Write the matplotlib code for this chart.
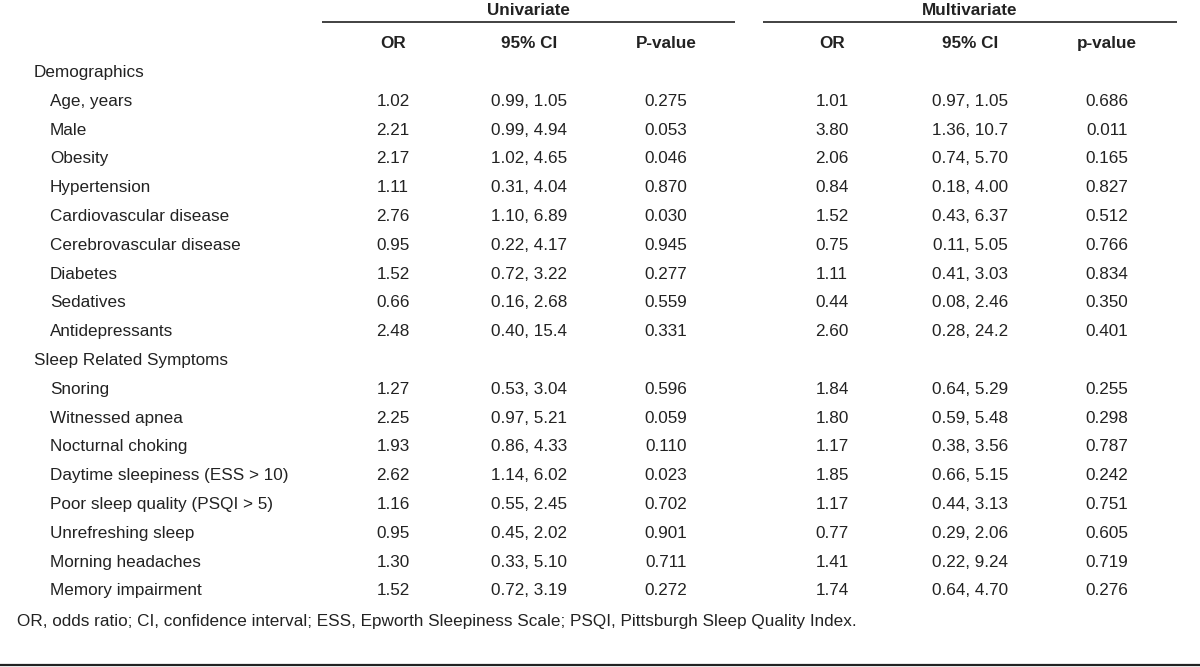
import matplotlib
matplotlib.use("Agg")
import matplotlib.pyplot as plt
from matplotlib import font_manager

# ---- data ----
sections = ["Demographics", "Sleep Related Symptoms"]
demo_vars = ["Age, years", "Male", "Obesity", "Hypertension", "Cardiovascular disease",
             "Cerebrovascular disease", "Diabetes", "Sedatives", "Antidepressants"]
sleep_vars = ["Snoring", "Witnessed apnea", "Nocturnal choking", "Daytime sleepiness (ESS > 10)",
              "Poor sleep quality (PSQI > 5)", "Unrefreshing sleep", "Morning headaches",
              "Memory impairment"]
uni_or = ["1.02", "2.21", "2.17", "1.11", "2.76", "0.95", "1.52", "0.66", "2.48",
          "1.27", "2.25", "1.93", "2.62", "1.16", "0.95", "1.30", "1.52"]
uni_ci = ["0.99, 1.05", "0.99, 4.94", "1.02, 4.65", "0.31, 4.04", "1.10, 6.89", "0.22, 4.17",
          "0.72, 3.22", "0.16, 2.68", "0.40, 15.4",
          "0.53, 3.04", "0.97, 5.21", "0.86, 4.33", "1.14, 6.02", "0.55, 2.45", "0.45, 2.02",
          "0.33, 5.10", "0.72, 3.19"]
uni_p = ["0.275", "0.053", "0.046", "0.870", "0.030", "0.945", "0.277", "0.559", "0.331",
         "0.596", "0.059", "0.110", "0.023", "0.702", "0.901", "0.711", "0.272"]
multi_or = ["1.01", "3.80", "2.06", "0.84", "1.52", "0.75", "1.11", "0.44", "2.60",
            "1.84", "1.80", "1.17", "1.85", "1.17", "0.77", "1.41", "1.74"]
multi_ci = ["0.97, 1.05", "1.36, 10.7", "0.74, 5.70", "0.18, 4.00", "0.43, 6.37", "0.11, 5.05",
            "0.41, 3.03", "0.08, 2.46", "0.28, 24.2",
            "0.64, 5.29", "0.59, 5.48", "0.38, 3.56", "0.66, 5.15", "0.44, 3.13", "0.29, 2.06",
            "0.22, 9.24", "0.64, 4.70"]
multi_p = ["0.686", "0.011", "0.165", "0.827", "0.512", "0.766", "0.834", "0.350", "0.401",
           "0.255", "0.298", "0.787", "0.242", "0.751", "0.605", "0.719", "0.276"]
group_titles = ["Univariate", "Multivariate"]
col_headers = ["OR", "95% CI", "P-value", "OR", "95% CI", "p-value"]
footnote = ("OR, odds ratio; CI, confidence interval; ESS, Epworth Sleepiness Scale; "
            "PSQI, Pittsburgh Sleep Quality Index.")

# ---- font ----
fam = "Liberation Sans"
for cand in ["Liberation Sans Narrow", "Arial Narrow"]:
    try:
        font_manager.findfont(cand, fallback_to_default=False)
        fam = cand
        break
    except Exception:
        pass
fams = [fam, "DejaVu Sans"]

W, H = 1200, 667
fig = plt.figure(figsize=(12, 6.67), dpi=100)
ax = fig.add_axes([0, 0, 1, 1])
ax.set_xlim(0, W)
ax.set_ylim(H, 0)
ax.axis("off")

tc = "#222222"
fs = 12.3
col_x = [393, 529, 666, 832, 970, 1107]
group_x = [(322, 735), (763, 1177)]

# group titles and lines
for (x0, x1), t in zip(group_x, group_titles):
    ax.text((x0 + x1) / 2, 15, t, ha="center", va="baseline", fontsize=fs,
            fontweight="bold", family=fams, color=tc)
    ax.plot([x0, x1], [22, 22], color="#333333", lw=1.3, solid_capstyle="butt")

for x, t in zip(col_x, col_headers):
    ax.text(x, 48, t, ha="center", va="baseline", fontsize=fs, fontweight="bold",
            family=fams, color=tc)

# rows
rows = []
rows.append(("section", sections[0]))
for v in demo_vars:
    rows.append(("var", v))
rows.append(("section", sections[1]))
for v in sleep_vars:
    rows.append(("var", v))

y0 = 77
step = 28.8
k = 0
for i, (kind, label) in enumerate(rows):
    y = y0 + i * step
    if kind == "section":
        ax.text(34, y, label, ha="left", va="baseline", fontsize=fs, family=fams, color=tc)
    else:
        ax.text(50, y, label, ha="left", va="baseline", fontsize=fs, family=fams, color=tc)
        vals = [uni_or[k], uni_ci[k], uni_p[k], multi_or[k], multi_ci[k], multi_p[k]]
        for x, v in zip(col_x, vals):
            ax.text(x, y, v, ha="center", va="baseline", fontsize=fs, family=fams, color=tc)
        k += 1

ax.text(17, 626, footnote, ha="left", va="baseline", fontsize=fs, family=fams, color=tc)
ax.plot([0, W], [665, 665], color="#222222", lw=1.6, solid_capstyle="butt")

fig.savefig("out.png", dpi=100, facecolor="white")
